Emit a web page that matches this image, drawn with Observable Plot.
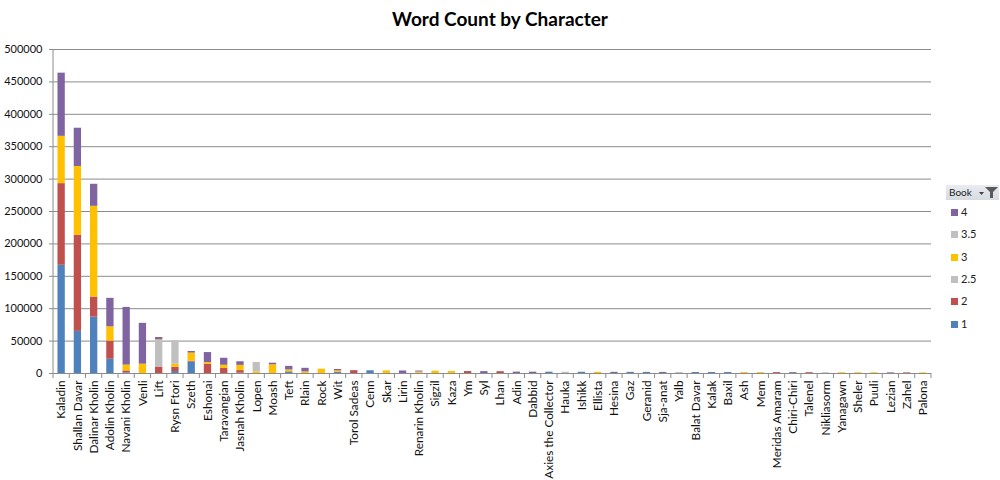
<!DOCTYPE html>
<html><head><meta charset="utf-8">
<script src="https://cdn.jsdelivr.net/npm/d3@7"></script>
<script src="https://cdn.jsdelivr.net/npm/@observablehq/plot@0.6"></script>
<style>
html,body{margin:0;padding:0;background:#fff;}
#wrap{position:relative;width:1000px;height:480px;font-family:Lato,"Open Sans",sans-serif;overflow:hidden;}
#title{position:absolute;left:0;top:7px;width:1000px;text-align:center;font-weight:bold;font-size:19px;color:#000;}
#chart{position:absolute;left:0;top:0;}
.lg-head{position:absolute;left:946px;top:185px;width:53px;height:15px;background:linear-gradient(#e9ecf0,#d6dbe2);font-size:10px;line-height:15px;color:#222;}
.lg-head span{position:absolute;left:3px;top:0;}
.lg-head svg{position:absolute;left:31px;top:1px;}
.lg-item{position:absolute;left:951px;font-size:11px;color:#222;height:14px;line-height:14px;}
.lg-item i{position:absolute;left:0;top:4px;width:7px;height:7px;}
.lg-item b{position:absolute;left:10px;top:0;font-weight:normal;white-space:nowrap;}
</style></head>
<body><div id="wrap"><div id="chart"></div><div id="title">Word Count by Character</div><div id="legend"></div></div>
<script>
const names = ["Kaladin","Shallan Davar","Dalinar Kholin","Adolin Kholin","Navani Kholin","Venli","Lift","Rysn Ftori","Szeth","Eshonai","Taravangian","Jasnah Kholin","Lopen","Moash","Teft","Rlain","Rock","Wit","Torol Sadeas","Cenn","Skar","Lirin","Renarin Kholin","Sigzil","Kaza","Ym","Syl","Lhan","Adin","Dabbid","Axies the Collector","Hauka","Ishikk","Ellista","Hesina","Gaz","Geranid","Sja-anat","Yalb","Balat Davar","Kalak","Baxil","Ash","Mem","Meridas Amaram","Chiri-Chiri","Talenel","Nikliasorm","Yanagawn","Sheler","Puuli","Lezian","Zahel","Palona"];
const book1  = [167000,65000,87000,22000,1000,0,0,3000,17500,0,0,500,0,0,2500,0,0,1500,0,4200,0,0,0,0,0,0,0,0,0,0,2000,0,1900,0,0,1750,1700,0,0,1550,1500,1450,0,0,0,0,0,0,0,0,0,0,0,0];
const book2  = [126000,148500,31000,28000,3000,0,10000,6700,1500,14400,7700,4000,0,0,0,0,0,500,4400,0,0,0,500,0,0,3000,0,2800,0,0,0,0,0,0,0,0,0,0,0,0,0,0,0,0,1350,0,1250,0,0,0,0,0,950,0];
const book25 = [0,0,0,0,0,0,41000,0,0,0,0,0,0,0,0,0,0,0,0,0,0,0,0,0,0,0,0,0,0,0,0,0,0,0,0,0,0,0,0,0,0,0,0,0,0,0,0,0,0,0,0,0,0,0];
const book3  = [73000,106000,140000,22000,9000,14400,1000,4600,12500,2500,5000,8000,2500,13400,3000,2500,6700,2000,0,0,4000,0,1800,3600,3100,0,0,0,0,0,0,0,0,1850,0,0,0,0,0,0,0,0,1400,1380,0,0,0,0,1150,1100,1050,0,0,900];
const book35 = [0,0,0,0,0,0,0,36000,0,0,0,0,14500,0,0,0,0,0,0,0,0,0,0,0,0,0,0,0,0,0,0,1950,0,0,0,0,0,0,1600,0,0,0,0,0,0,0,0,1200,0,0,0,0,0,0];
const book4  = [97500,59000,34000,44000,89000,63000,3500,0,2500,15400,10800,5600,0,2500,5500,5500,0,2200,0,0,0,3900,1500,0,0,0,2900,0,2100,2050,0,0,0,0,1800,0,0,1650,0,0,0,0,0,0,0,1300,0,0,0,0,0,1000,0,0];
const books = ["1","2","2.5","3","3.5","4"];
const bookColors = ["#4F81BD","#C0504D","#BFBFBF","#FFC000","#C0C0C0","#8064A2"];
const legendOrder = ["4","3.5","3","2.5","2","1"];
const yTicks = [0,50000,100000,150000,200000,250000,300000,350000,400000,450000,500000];

const series = [book1, book2, book25, book3, book35, book4];
const data = [];
names.forEach((n, i) => books.forEach((b, j) => { if (series[j][i] > 0) data.push({name: n, book: b, words: series[j][i]}); }));

const chart = Plot.plot({
  width: 1000, height: 480,
  marginLeft: 53, marginRight: 69, marginTop: 49, marginBottom: 107,
  style: {fontFamily: "Lato, 'Open Sans', sans-serif", fontSize: "11px", color: "#111", background: "transparent"},
  x: {domain: names, paddingInner: 0.55, paddingOuter: 0.275, align: 0.5, round: false, label: null},
  y: {domain: [0, 500000], label: null},
  color: {domain: books, range: bookColors},
  marks: [
    Plot.gridY(yTicks, {stroke: "#8c8c8c", strokeOpacity: 1}),
    Plot.barY(data, {x: "name", y: "words", fill: "book"}),
    Plot.ruleY([0], {stroke: "#8c8c8c"}),
    Plot.axisY({ticks: yTicks, tickFormat: d3.format("d"), tickSize: 4, tickPadding: 7, stroke: "#8c8c8c", label: null, fontSize: 11}),
    Plot.axisX({tickRotate: -90, tickSize: 0, tickPadding: 7, label: null, fontSize: 11.8})
  ]
});
document.getElementById("chart").appendChild(chart);

// category boundary ticks and y axis line from the Plot scales
const xs = chart.scale("x"), ys = chart.scale("y");
const gap = (xs.step - xs.bandwidth) / 2;
const bounds = names.map(n => xs.apply(n) - gap);
bounds.push(xs.apply(names[names.length - 1]) + xs.bandwidth + gap);
const y0 = ys.apply(0), yTop = ys.apply(500000);
const svg = d3.select(chart);
svg.append("g").attr("stroke", "#8c8c8c").selectAll("line").data(bounds).join("line")
  .attr("x1", d => d).attr("x2", d => d).attr("y1", y0).attr("y2", y0 + 5);
svg.append("line").attr("stroke", "#8c8c8c").attr("x1", bounds[0]).attr("x2", bounds[0]).attr("y1", yTop).attr("y2", y0);

// legend
const lg = document.getElementById("legend");
const head = document.createElement("div");
head.className = "lg-head";
head.innerHTML = '<span>Book</span><svg width="22" height="13"><path d="M2 6 L7 6 L4.5 9 Z" fill="#404040"/><path d="M8 1 L21 1 L16 6 L16 12 L13 12 L13 6 Z" fill="#5a5a5a"/></svg>';
lg.appendChild(head);
legendOrder.forEach((b, i) => {
  const it = document.createElement("div");
  it.className = "lg-item";
  it.style.top = (205 + i * 22.3) + "px";
  const c = bookColors[books.indexOf(b)];
  it.innerHTML = '<i style="background:' + c + '"></i><b>' + b + '</b>';
  lg.appendChild(it);
});
</script>
</body></html>
